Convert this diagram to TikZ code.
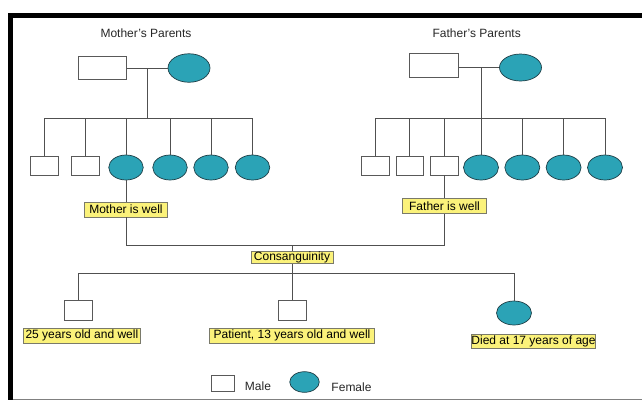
\documentclass[tikz,border=0pt]{standalone}
\usepackage{fontspec}
\setmainfont{Liberation Sans}
\usetikzlibrary{shapes.geometric}
\definecolor{femfill}{HTML}{2BA3B6}
\definecolor{femline}{HTML}{1E3E46}
\definecolor{labfill}{HTML}{FBF27A}
\definecolor{labline}{HTML}{7A7A6A}
\definecolor{conn}{HTML}{505050}
\tikzset{
  malebox/.style={rectangle, draw=black!65, fill=white, line width=0.7pt, inner sep=0pt},
  femnode/.style={ellipse, draw=femline, fill=femfill, line width=0.7pt, inner sep=0pt},
  labelbox/.style={rectangle, draw=labline, fill=labfill, line width=0.7pt, inner sep=0pt, font=\fontsize{12}{13}\selectfont},
  titletext/.style={inner sep=0pt, font=\fontsize{12}{13}\selectfont, text=black!85},
  link/.style={draw=conn, line width=0.7pt}
}
\begin{document}
\begin{tikzpicture}[x=1pt,y=-1pt]
\useasboundingbox (0,0) rectangle (642,400);
% frame
\fill[black] (7.5,12.5) rectangle (642,17.5);
\fill[black] (7.5,12.5) rectangle (12.5,400);
\draw[gray, line width=1.2pt] (12.5,399.3) -- (642,399.3);

% titles
\node[titletext] (tm) at (146,33.3) {Mother's Parents};
\node[titletext] (tf) at (476.7,33.3) {Father's Parents};

% mother's parents
\node[malebox, minimum width=48pt, minimum height=23.5pt] (mgf) at (102.5,68) {};
\node[femnode, minimum width=42pt, minimum height=28.5pt] (mgm) at (189,68) {};
\coordinate (mm) at (147.5,68);
\coordinate (msib) at (147.5,118);
% mother's siblings
\node[malebox, minimum width=27.5pt, minimum height=19pt] (ma1) at (44.4,165.5) {};
\node[malebox, minimum width=27.5pt, minimum height=19pt] (ma2) at (85.3,165.5) {};
\node[femnode, minimum width=34.5pt, minimum height=25pt] (mo) at (126,167.5) {};
\node[femnode, minimum width=34.5pt, minimum height=25pt] (ma4) at (170,167.5) {};
\node[femnode, minimum width=34.5pt, minimum height=25pt] (ma5) at (211,167.5) {};
\node[femnode, minimum width=34.5pt, minimum height=25pt] (ma6) at (252.5,167.5) {};

% father's parents
\node[malebox, minimum width=49pt, minimum height=24pt] (pgf) at (434,65.3) {};
\node[femnode, minimum width=42pt, minimum height=27pt] (pgm) at (520.5,67.5) {};
\coordinate (pm) at (481,67.5);
\coordinate (psib) at (481,118);
% father's siblings
\node[malebox, minimum width=27.8pt, minimum height=19pt] (pa1) at (375.2,165.5) {};
\node[malebox, minimum width=27.8pt, minimum height=19pt] (pa2) at (409.8,165.5) {};
\node[malebox, minimum width=27.8pt, minimum height=19pt] (fa) at (444.5,165.5) {};
\node[femnode, minimum width=35pt, minimum height=25pt] (pa4) at (481,167.5) {};
\node[femnode, minimum width=35pt, minimum height=25pt] (pa5) at (522.3,167.5) {};
\node[femnode, minimum width=35pt, minimum height=25pt] (pa6) at (563.6,167.5) {};
\node[femnode, minimum width=35pt, minimum height=25pt] (pa7) at (605,167.5) {};

% labels for parents
\node[labelbox, minimum width=83pt, minimum height=15pt] (mw) at (126,209.5) {Mother is well};
\node[labelbox, minimum width=84pt, minimum height=14.5pt] (fw) at (444.5,206) {Father is well};
\coordinate (ul) at (126,245);
\coordinate (ur) at (444.5,245);
\coordinate (um) at (292,245);
\node[labelbox, minimum width=82pt, minimum height=12.5pt] (cons) at (292,257.5) {Consanguinity};
\coordinate (cl) at (78.3,273.3);
\coordinate (cm) at (292,273.3);
\coordinate (cr) at (514,273.3);

% children
\node[malebox, minimum width=28.5pt, minimum height=19.3pt] (k1) at (78.3,310.4) {};
\node[malebox, minimum width=28pt, minimum height=19.3pt] (k2) at (292,310.4) {};
\node[femnode, minimum width=35pt, minimum height=24pt] (k3) at (514,313) {};
\node[labelbox, minimum width=116.3pt, minimum height=15.3pt] (l1) at (81.9,335.7) {25 years old and well};
\node[labelbox, minimum width=165pt, minimum height=15pt] (l2) at (292,335.6) {Patient, 13 years old and well};
\node[labelbox, minimum width=124pt, minimum height=14pt] (l3) at (533.5,341) {Died at 17 years of age};

% legend
\node[malebox, minimum width=23pt, minimum height=16.7pt] (lgm) at (222.4,383.3) {};
\node[titletext] (lgmt) at (258,386) {Male};
\node[femnode, minimum width=29.5pt, minimum height=20.6pt] (lgf) at (304.5,382) {};
\node[titletext] (lgft) at (351.5,387) {Female};

% connectors
\draw[link] (mgf.east |- mm) -- (mgm.west);
\draw[link] (mm) -- (msib);
\draw[link] (ma1 |- msib) -- (ma6 |- msib);
\foreach \n in {ma1,ma2,mo,ma4,ma5,ma6} \draw[link] (\n |- msib) -- (\n.north);

\draw[link] (pgf.east |- pm) -- (pgm.west);
\draw[link] (pm) -- (psib);
\draw[link] (pa1 |- psib) -- (pa7 |- psib);
\foreach \n in {pa1,pa2,fa,pa4,pa5,pa6,pa7} \draw[link] (\n |- psib) -- (\n.north);

\draw[link] (mo.south) -- (mw.north);
\draw[link] (fa.south) -- (fw.north);
\draw[link] (mw.south) -- (ul) -- (ur) -- (fw.south);
\draw[link] (um) -- (cons.north);
\draw[link] (cons.south) -- (cm);
\draw[link] (cl) -- (cr);
\draw[link] (cl) -- (k1.north);
\draw[link] (cm) -- (k2.north);
\draw[link] (cr) -- (k3.north);
\end{tikzpicture}
\end{document}
